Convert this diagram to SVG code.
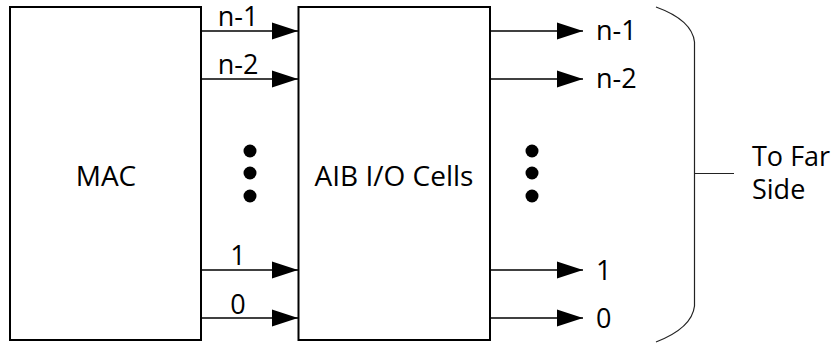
<svg xmlns="http://www.w3.org/2000/svg" width="832" height="346" viewBox="0 0 832 346">
<style>
.box{fill:#fff;stroke:#000;stroke-width:2}
.t{font-family:"Open Sans","Liberation Sans",sans-serif;font-size:27px;fill:#000}
.m{font-size:28px}
.c{text-anchor:middle}
.w{stroke:#000;stroke-width:1.6;fill:none}
.dot{fill:#000}
.brace{stroke:#222;stroke-width:1.2;fill:none}
</style>
<defs>
<marker id="ah" markerUnits="userSpaceOnUse" markerWidth="28" markerHeight="20" refX="26" refY="9" orient="auto">
<path d="M0,0.5 L26,9 L0,17.5 Z" fill="#000"/>
</marker>
</defs>
<g id="mac">
<rect class="box" x="10" y="7" width="191" height="333"/>
<text class="t m c" x="106" y="186">MAC</text>
</g>
<g id="aib">
<rect class="box" x="298.5" y="7" width="191.5" height="333"/>
<text class="t m c" x="394" y="186">AIB I/O Cells</text>
</g>
<g id="connectors">
<line class="w" x1="201" y1="31" x2="298" y2="31" marker-end="url(#ah)"/>
<line class="w" x1="201" y1="79" x2="298" y2="79" marker-end="url(#ah)"/>
<line class="w" x1="201" y1="270" x2="298" y2="270" marker-end="url(#ah)"/>
<line class="w" x1="201" y1="318" x2="298" y2="318" marker-end="url(#ah)"/>
<line class="w" x1="490" y1="31" x2="583" y2="31" marker-end="url(#ah)"/>
<line class="w" x1="490" y1="79" x2="583" y2="79" marker-end="url(#ah)"/>
<line class="w" x1="490" y1="270" x2="583" y2="270" marker-end="url(#ah)"/>
<line class="w" x1="490" y1="318" x2="583" y2="318" marker-end="url(#ah)"/>
</g>
<g id="labels">
<text class="t c" x="238" y="26">n-1</text>
<text class="t c" x="238" y="74">n-2</text>
<text class="t c" x="238" y="265">1</text>
<text class="t c" x="238" y="314">0</text>
<text class="t" x="596" y="40">n-1</text>
<text class="t" x="596" y="88">n-2</text>
<text class="t" x="596" y="280">1</text>
<text class="t" x="596" y="328">0</text>
</g>
<g id="dots">
<circle class="dot" cx="250" cy="151" r="6.5"/>
<circle class="dot" cx="250" cy="173" r="6.5"/>
<circle class="dot" cx="250" cy="196" r="6.5"/>
<circle class="dot" cx="532" cy="151" r="6.5"/>
<circle class="dot" cx="532" cy="173" r="6.5"/>
<circle class="dot" cx="532" cy="196" r="6.5"/>
</g>
<g id="brace">
<path class="brace" d="M656,7 Q692,20 694.5,42 L694.5,306 Q692,328 656,342"/>
<line class="brace" x1="694.5" y1="173.5" x2="734" y2="173.5"/>
<text class="t" x="752" y="166">To Far</text>
<text class="t" x="752" y="199">Side</text>
</g>
</svg>
